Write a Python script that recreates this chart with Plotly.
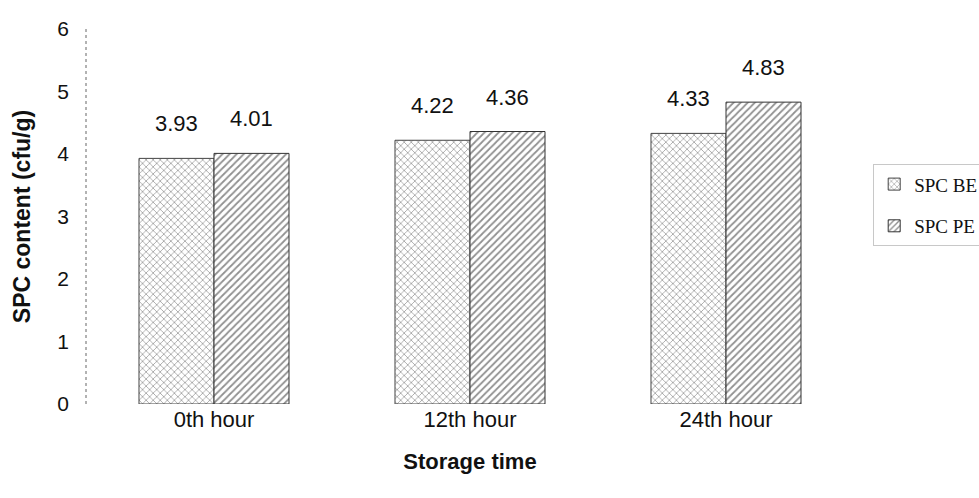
import plotly.graph_objects as go

# Storage time points and SPC counts (cfu/g) for the two treatments
categories = ["0th hour", "12th hour", "24th hour"]
spc_be = [3.93, 4.22, 4.33]
spc_pe = [4.01, 4.36, 4.83]
series_names = ["SPC BE", "SPC PE"]
y_ticks = [0, 1, 2, 3, 4, 5, 6]

SANS = "Liberation Sans, Arial, sans-serif"
SERIF = "Liberation Serif, Times New Roman, serif"

fig = go.Figure()

fig.add_trace(go.Bar(
    x=categories, y=spc_be, name=series_names[0], legendgroup="be",
    marker=dict(
        color="white",
        line=dict(color="#444444", width=1),
        pattern=dict(shape="x", size=5, solidity=0.3, fgcolor="#444444", bgcolor="white"),
    ),
))
fig.add_trace(go.Bar(
    x=categories, y=spc_pe, name=series_names[1], legendgroup="pe",
    marker=dict(
        color="white",
        line=dict(color="#333333", width=1),
        pattern=dict(shape="/", size=5, solidity=0.35, fgcolor="#222222", bgcolor="white"),
    ),
))

# value labels above each bar
offsets = [-0.5, 0.5]
for vals, off in zip([spc_be, spc_pe], offsets):
    for i, v in enumerate(vals):
        fig.add_annotation(
            x=i, y=v, xref="x", yref="y", text=f"{v:.2f}",
            showarrow=False, yanchor="bottom", xshift=off * 75, yshift=20,
            font=dict(family=SANS, size=22, color="#111111"),
        )

# dotted vertical axis line
fig.add_shape(type="line", xref="paper", yref="y", x0=0, x1=0, y0=0, y1=6,
              line=dict(color="#666666", width=1, dash="dot"))

fig.update_layout(
    width=979, height=498,
    margin=dict(l=86, r=125, t=29, b=94, autoexpand=False),
    paper_bgcolor="white", plot_bgcolor="white",
    barmode="group", bargap=0.414, bargroupgap=0,
    showlegend=True,
    legend=dict(
        x=1.025, y=0.53, xanchor="left", yanchor="middle",
        font=dict(family=SERIF, size=19, color="#111111"),
        bordercolor="#c8c8c8", borderwidth=1,
        traceorder="grouped", tracegroupgap=14,
        itemwidth=30,
        bgcolor="rgba(0,0,0,0)",
    ),
    xaxis=dict(
        type="category", range=[-0.5, 2.5],
        showline=False, showgrid=False, zeroline=False, ticks="",
        tickfont=dict(family=SANS, size=22, color="#111111"),
        title=dict(text="<b>Storage time</b>", font=dict(family=SANS, size=22, color="#111111"), standoff=22),
    ),
    yaxis=dict(
        range=[0, 6], tickvals=y_ticks,
        showline=False, showgrid=False, zeroline=False, ticks="",
        ticklabelstandoff=16,
        tickfont=dict(family=SANS, size=21, color="#111111"),
        title=dict(text="<b>SPC content (cfu/g)</b>", font=dict(family=SANS, size=23, color="#111111"), standoff=20),
    ),
)

fig.write_html("out.html")
